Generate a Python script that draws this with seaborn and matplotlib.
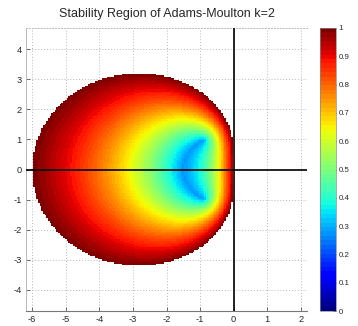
import numpy as np
import pandas as pd
import matplotlib
matplotlib.use("Agg")
import matplotlib.pyplot as plt
import seaborn as sns

# Adams-Moulton k=2 coefficients: rho(zeta) = sum alpha_j zeta^j, sigma(zeta) = sum beta_j zeta^j
alpha = [0.0, -1.0, 1.0]
beta = [-1.0 / 12, 8.0 / 12, 5.0 / 12]

# sampling grid of the complex plane (h*lambda)
x_range = [-6.2, 2.2]
y_range = [-4.7, 4.7]
step = 0.05

xticks = [-6, -5, -4, -3, -2, -1, 0, 1, 2]
yticks = [-4, -3, -2, -1, 0, 1, 2, 3, 4]
cticks = [0, 0.1, 0.2, 0.3, 0.4, 0.5, 0.6, 0.7, 0.8, 0.9, 1]
title = "Stability Region of Adams-Moulton k=2"

xs = np.arange(x_range[0], x_range[1] + step / 2, step)
ys = np.arange(y_range[0], y_range[1] + step / 2, step)
X, Y = np.meshgrid(xs, ys)
Z = X + 1j * Y
a = alpha[2] - Z * beta[2]
b = alpha[1] - Z * beta[1]
c = alpha[0] - Z * beta[0]
disc = np.sqrt(b * b - 4 * a * c + 0j)
r1 = (-b + disc) / (2 * a)
r2 = (-b - disc) / (2 * a)
R = np.maximum(np.abs(r1), np.abs(r2))
R = np.ma.masked_where(R > 1.0, R)

sns.set_style("white")
plt.rcParams['font.family'] = ['Liberation Sans', 'DejaVu Sans']
plt.rcParams['axes.unicode_minus'] = False

fig = plt.figure(figsize=(3.58, 3.26), dpi=100)
ax = fig.add_axes([26 / 358, 15 / 326, 281 / 358, 283 / 326])
cax = fig.add_axes([320 / 358, 15 / 326, 16 / 358, 283 / 326])

cmap = plt.get_cmap('jet', 64)
mesh = ax.pcolormesh(X, Y, R, cmap=cmap, vmin=0, vmax=1, shading='nearest', zorder=1)

zero_df = pd.DataFrame({"x": [x_range[0] - 1, x_range[1] + 1], "y": [0, 0]})
sns.lineplot(data=zero_df, x="x", y="y", color="black", lw=1.2, ax=ax, zorder=3)
ax.axvline(0, color="black", lw=1.2, zorder=3)

ax.set_xlim(-6.18, 2.18)
ax.set_ylim(-4.7, 4.7)
ax.set_xticks(xticks)
ax.set_yticks(yticks)
ax.set_xlabel("")
ax.set_ylabel("")
ax.grid(True, color="#b8b8b8", linestyle=(0, (1, 2)), lw=0.7)
ax.set_axisbelow(True)
ax.tick_params(axis='both', direction='in', length=3, width=0.6, color="#555555",
               labelsize=6.7, pad=3, top=False, right=False, left=True, bottom=True)
ax.spines['right'].set_visible(False)
ax.spines['top'].set_linestyle((0, (1, 2)))
ax.spines['top'].set_color("#b8b8b8")
ax.spines['top'].set_linewidth(0.7)
ax.spines['left'].set_color("#b8b8b8")
ax.spines['left'].set_linewidth(0.7)
ax.spines['bottom'].set_color("#777777")
ax.spines['bottom'].set_linewidth(0.8)
ax.set_title(title, fontsize=9, pad=8)

cb = fig.colorbar(mesh, cax=cax, ticks=cticks)
cb.ax.tick_params(labelsize=5.7, direction='in', length=2.5, width=0.6, pad=2)
cb.ax.set_yticklabels([f"{t:g}" for t in cticks])
cb.outline.set_linewidth(0.5)
cb.outline.set_edgecolor("#888888")

fig.savefig("out.png", dpi=100)
